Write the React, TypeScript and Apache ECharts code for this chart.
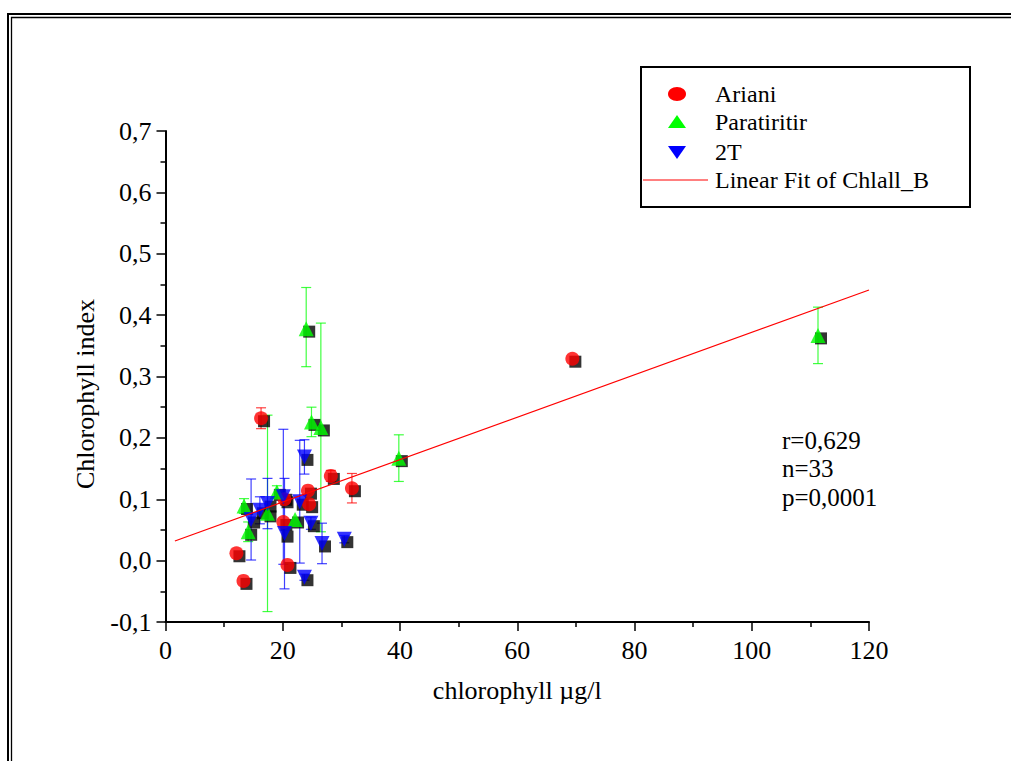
import React, { useEffect, useRef } from "react";
import * as echarts from "echarts";

const FONT = "'Liberation Serif', 'Times New Roman', serif";

// Ariani (red circles)
const arianiX = [16.3, 12.1, 13.3, 20.1, 20.3, 20.8, 24.3, 24.5, 28.2, 31.8, 69.4];
const arianiY = [0.232, 0.012, -0.033, 0.063, 0.1, -0.007, 0.114, 0.092, 0.138, 0.118, 0.329];
const arianiErrUp = [0.017, 0, 0, 0, 0, 0, 0, 0, 0.009, 0.024, 0];
const arianiErrDown = [0.017, 0, 0, 0, 0, 0, 0, 0, 0.009, 0.024, 0];

// Paratiritir (green triangles)
const paraX = [13.4, 14.1, 17.4, 19.0, 22.1, 24.0, 24.9, 26.5, 39.8, 111.3];
const paraY = [0.089, 0.047, 0.077, 0.112, 0.067, 0.378, 0.226, 0.217, 0.167, 0.367];
const paraErrUp = [0.012, 0.016, 0.16, 0.01, 0, 0.067, 0.024, 0.17, 0.038, 0.046];
const paraErrDown = [0.012, 0.016, 0.16, 0.01, 0, 0.062, 0.024, 0.17, 0.038, 0.046];

// 2T (blue inverted triangles)
const t2X = [14.6, 16.1, 17.4, 20.1, 20.3, 22.9, 23.7, 23.7, 24.8, 26.7, 30.5];
const t2Y = [0.067, 0.082, 0.093, 0.104, 0.044, 0.096, 0.169, -0.027, 0.061, 0.028, 0.035];
const t2ErrUp = [0.066, 0.022, 0.041, 0.11, 0.09, 0.1, 0.028, 0.005, 0.01, 0.033, 0.006];
const t2ErrDown = [0.066, 0.022, 0.041, 0.11, 0.09, 0.1, 0.028, 0.005, 0.01, 0.033, 0.006];

// Linear fit of Chlall_B (endpoints)
const fitX = [1.6, 120];
const fitY = [0.032, 0.441];

const xTicks = { min: 0, max: 120, interval: 20 };
const yTicks = { min: -0.1, max: 0.7, interval: 0.1 };

const xTitle = "chlorophyll µg/l";
const yTitle = "Chlorophyll index";
const statsLines = ["r=0,629", "n=33", "p=0,0001"];
const legendNames = ["Ariani", "Paratiritir", "2T", "Linear Fit of Chlall_B"];

const RED = "#ff0000";
const GREEN = "#00ff00";
const BLUE = "#0000ff";

function pts(xs: number[], ys: number[]) {
  return xs.map((x, i) => [x, ys[i]]);
}
function errPts(xs: number[], ys: number[], up: number[], down: number[]) {
  const out: number[][] = [];
  xs.forEach((x, i) => {
    if (up[i] > 0 || down[i] > 0) out.push([x, ys[i], ys[i] - down[i], ys[i] + up[i]]);
  });
  return out;
}

function errorSeries(data: number[][], color: string) {
  return {
    type: "custom",
    z: 1,
    silent: true,
    data,
    renderItem: (_p: any, api: any) => {
      const x = api.value(0);
      const lo = api.coord([x, api.value(2)]);
      const hi = api.coord([x, api.value(3)]);
      const style = { stroke: color, lineWidth: 1.2, opacity: 0.75 };
      return {
        type: "group",
        children: [
          { type: "line", shape: { x1: hi[0], y1: hi[1], x2: lo[0], y2: lo[1] }, style },
          { type: "line", shape: { x1: hi[0] - 5, y1: hi[1], x2: hi[0] + 5, y2: hi[1] }, style },
          { type: "line", shape: { x1: lo[0] - 5, y1: lo[1], x2: lo[0] + 5, y2: lo[1] }, style },
        ],
      };
    },
  };
}

function shadowSeries(data: number[][]) {
  return {
    type: "scatter",
    z: 2,
    silent: true,
    data,
    symbol: "rect",
    symbolSize: 12,
    symbolOffset: [3, 3],
    itemStyle: { color: "#000000" },
  };
}

export default function App() {
  const ref = useRef<HTMLDivElement>(null);
  useEffect(() => {
    if (!ref.current) return;
    const chart = echarts.init(ref.current, undefined, { renderer: "svg" });
    const ariani = pts(arianiX, arianiY);
    const para = pts(paraX, paraY);
    const t2 = pts(t2X, t2Y);
    const legendX = 677;
    const textX = 715;
    const rows = [94, 122, 152, 180];
    const option: any = {
      animation: false,
      backgroundColor: "#ffffff",
      textStyle: { fontFamily: FONT },
      grid: { left: 165.5, right: 142, top: 131, bottom: 139, containLabel: false },
      xAxis: {
        type: "value",
        min: xTicks.min,
        max: xTicks.max,
        interval: xTicks.interval,
        name: xTitle,
        nameLocation: "middle",
        nameGap: 55,
        nameTextStyle: { fontFamily: FONT, fontSize: 26, color: "#000" },
        axisLine: { onZero: false, lineStyle: { color: "#000", width: 2 } },
        axisTick: { inside: false, length: 9, lineStyle: { color: "#000", width: 1.5 } },
        minorTick: { show: true, splitNumber: 2, length: 5, lineStyle: { color: "#000", width: 1.5 } },
        splitLine: { show: false },
        axisLabel: { fontFamily: FONT, fontSize: 26, color: "#000", margin: 15 },
      },
      yAxis: {
        type: "value",
        min: yTicks.min,
        max: yTicks.max,
        interval: yTicks.interval,
        axisLine: { onZero: false, lineStyle: { color: "#000", width: 2 } },
        axisTick: { inside: false, length: 9, lineStyle: { color: "#000", width: 1.5 } },
        minorTick: { show: true, splitNumber: 2, length: 5, lineStyle: { color: "#000", width: 1.5 } },
        splitLine: { show: false },
        axisLabel: {
          fontFamily: FONT,
          fontSize: 26,
          color: "#000",
          margin: 14,
          formatter: (v: number) => (Math.abs(v) < 1e-9 ? 0 : v).toFixed(1).replace(".", ","),
        },
      },
      series: [
        errorSeries(errPts(arianiX, arianiY, arianiErrUp, arianiErrDown), RED),
        errorSeries(errPts(paraX, paraY, paraErrUp, paraErrDown), GREEN),
        errorSeries(errPts(t2X, t2Y, t2ErrUp, t2ErrDown), BLUE),
        shadowSeries(ariani),
        shadowSeries(para),
        shadowSeries(t2),
        {
          name: "Ariani",
          type: "scatter",
          z: 3,
          data: ariani,
          symbol: "circle",
          symbolSize: 14,
          itemStyle: { color: RED },
        },
        {
          name: "Paratiritir",
          type: "scatter",
          z: 3,
          data: para,
          symbol: "triangle",
          symbolSize: 15,
          itemStyle: { color: GREEN },
        },
        {
          name: "2T",
          type: "scatter",
          z: 3,
          data: t2,
          symbol: "triangle",
          symbolRotate: 180,
          symbolSize: 15,
          itemStyle: { color: BLUE },
        },
        {
          name: "Linear Fit of Chlall_B",
          type: "line",
          z: 4,
          data: pts(fitX, fitY),
          showSymbol: false,
          symbol: "none",
          lineStyle: { color: RED, width: 1.2 },
        },
      ],
      graphic: [
        {
          type: "rect",
          silent: true,
          shape: { x: 8, y: 14, width: 1200, height: 1000 },
          style: { fill: "none", stroke: "#000", lineWidth: 2 },
        },
        {
          type: "rect",
          silent: true,
          shape: { x: 11.5, y: 17.5, width: 1200, height: 1000 },
          style: { fill: "none", stroke: "#000", lineWidth: 1.3 },
        },
        {
          type: "text",
          silent: true,
          x: 85,
          y: 394,
          rotation: Math.PI / 2,
          style: { text: yTitle, fontFamily: FONT, fontSize: 26, fill: "#000", align: "center", verticalAlign: "middle" },
        },
        {
          type: "rect",
          silent: true,
          z: 10,
          shape: { x: 641, y: 67, width: 329, height: 140 },
          style: { fill: "#fff", stroke: "#000", lineWidth: 2 },
        },
        {
          type: "ellipse",
          silent: true,
          z: 11,
          shape: { cx: legendX, cy: rows[0], rx: 9, ry: 7 },
          style: { fill: RED },
        },
        {
          type: "polygon",
          silent: true,
          z: 11,
          shape: { points: [[legendX, rows[1] - 7], [legendX + 9, rows[1] + 6], [legendX - 9, rows[1] + 6]] },
          style: { fill: GREEN },
        },
        {
          type: "polygon",
          silent: true,
          z: 11,
          shape: { points: [[legendX - 9, rows[2] - 6], [legendX + 9, rows[2] - 6], [legendX, rows[2] + 7]] },
          style: { fill: BLUE },
        },
        {
          type: "line",
          silent: true,
          z: 11,
          shape: { x1: 643, y1: rows[3], x2: 708, y2: rows[3] },
          style: { stroke: RED, lineWidth: 1 },
        },
        ...legendNames.map((n, i) => ({
          type: "text",
          silent: true,
          z: 11,
          x: textX,
          y: rows[i],
          style: { text: n, fontFamily: FONT, fontSize: 24, fill: "#000", verticalAlign: "middle", align: "left" },
        })),
        ...statsLines.map((s, i) => ({
          type: "text",
          silent: true,
          z: 11,
          x: 782,
          y: 440 + i * 28.5,
          style: { text: s, fontFamily: FONT, fontSize: 25, fill: "#000", verticalAlign: "middle", align: "left" },
        })),
      ],
    };
    chart.setOption(option);
    return () => chart.dispose();
  }, []);
  return (
    <div
      ref={ref}
      style={{ position: "absolute", left: 0, top: 0, width: 1011, height: 761, background: "#fff" }}
    />
  );
}
